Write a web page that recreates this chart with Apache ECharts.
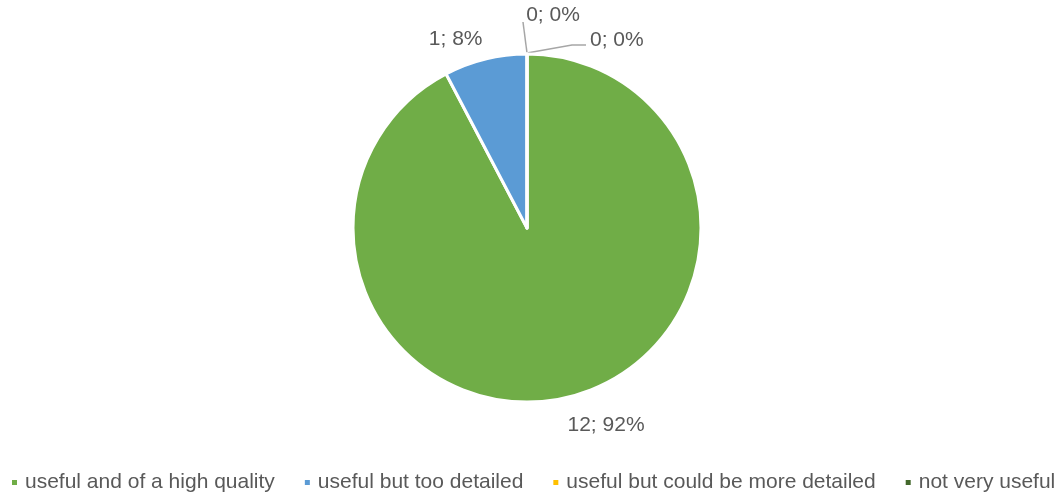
<!DOCTYPE html>
<html>
<head>
<meta charset="utf-8">
<script src="https://cdn.jsdelivr.net/npm/echarts@6/dist/echarts.min.js"></script>
<style>
  html, body { margin: 0; padding: 0; background: #ffffff; }
  #chart { width: 1058px; height: 494px; }
</style>
</head>
<body>
<div id="chart"></div>
<script>
// Survey answers and their counts
const categories = [
  'useful and of a high quality',
  'useful but too detailed',
  'useful but could be more detailed',
  'not very useful'
];
const counts = [12, 1, 0, 0];
const colors = ['#70ad47', '#5b9bd5', '#ffc000', '#43682b'];

const chart = echarts.init(document.getElementById('chart'), null, { renderer: 'canvas' });

const textColor = '#595959';
const fontFamily = '"Liberation Sans", Arial, sans-serif';

chart.setOption({
  animation: false,
  color: colors,
  legend: {
    data: categories,
    left: 10,
    top: 472,
    width: 1048,
    padding: 0,
    icon: 'rect',
    itemWidth: 7,
    itemHeight: 7,
    itemGap: 28,
    textStyle: { fontSize: 21, color: textColor, fontFamily: fontFamily, padding: [0, 0, 0, 2] }
  },
  series: [{
    type: 'pie',
    center: [527, 228],
    radius: 174,
    startAngle: 90,
    clockwise: true,
    avoidLabelOverlap: false,
    percentPrecision: 0,
    minShowLabelAngle: 0,
    itemStyle: { borderColor: '#ffffff', borderWidth: 3 },
    label: {
      show: true,
      position: 'outside',
      formatter: '{c}; {d}%',
      fontSize: 21,
      color: textColor,
      fontFamily: fontFamily
    },
    labelLine: { show: false, length: 12, length2: 0 },
    labelLayout: function (p) {
      const a = p.labelLinePoints ? p.labelLinePoints[0] : null;
      if (p.dataIndex === 0) return { dx: -9, dy: 17 };
      if (p.dataIndex === 1) return { dx: 5, dy: -8 };
      if (!a) return {};
      // zero-size slices: pull labels apart and connect them with leader lines
      if (p.dataIndex === 2) {
        return {
          x: a[0] + 26, y: a[1] - 39, align: 'center', verticalAlign: 'middle',
          labelLinePoints: [[a[0], a[1] - 1], [a[0] - 4, a[1] - 32], [a[0] - 4, a[1] - 32]]
        };
      }
      if (p.dataIndex === 3) {
        return {
          x: a[0] + 63, y: a[1] - 14, align: 'left', verticalAlign: 'middle',
          labelLinePoints: [[a[0], a[1] - 1], [a[0] + 45, a[1] - 9], [a[0] + 59, a[1] - 9]]
        };
      }
      return {};
    },
    data: categories.map(function (name, i) {
      const zero = counts[i] === 0;
      return {
        name: name,
        value: counts[i],
        labelLine: { show: zero, lineStyle: { color: '#a6a6a6', width: 1.5 } }
      };
    })
  }]
});
</script>
</body>
</html>
